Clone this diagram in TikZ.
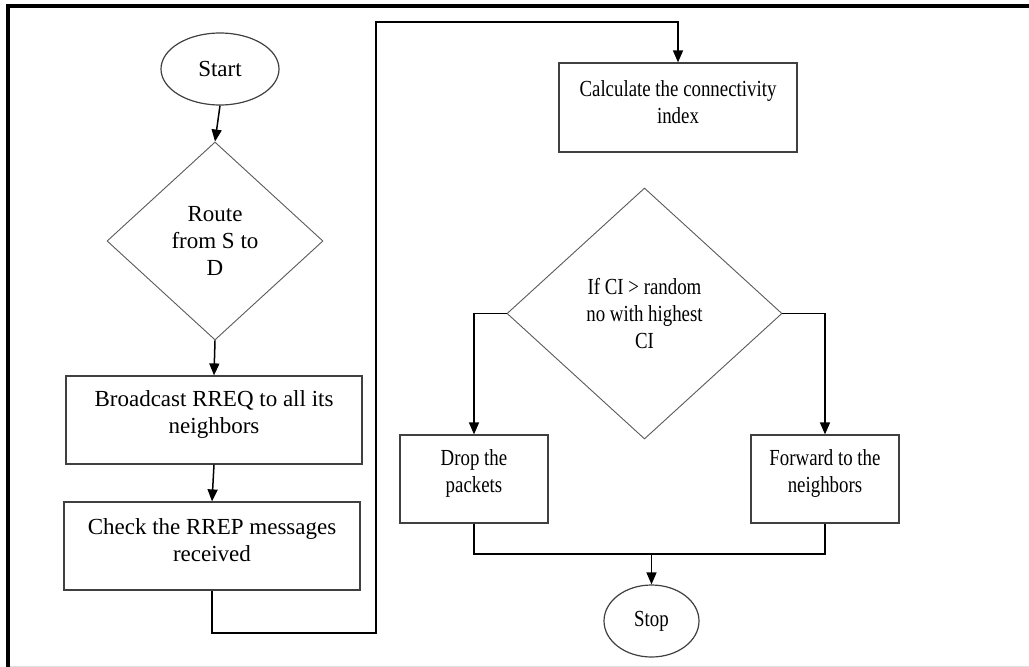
\documentclass[tikz,border=0pt]{standalone}
\usepackage{fontspec}
\usepackage{graphicx}
\setmainfont{Liberation Serif}
\usetikzlibrary{shapes.geometric,arrows.meta}
\newcommand\nar[1]{\scalebox{0.82}[1]{#1}}
\begin{document}
\begin{tikzpicture}[x=1pt,y=-1pt,
  every node/.style={font=\fontsize{23}{27}\selectfont, align=center, inner sep=0pt},
  shapeline/.style={draw=black!75, line width=1.2pt},
  box/.style={shapeline, rectangle, minimum height=88},
  oval/.style={shapeline, ellipse},
  decision/.style={draw=black!65, line width=0.9pt, diamond, aspect=1},
  conn/.style={draw=black, line width=1.5pt},
  arr/.style={conn, -{Triangle[length=12pt,width=10pt]}}]
\useasboundingbox (0,0) rectangle (1029,667);
% frame
\fill[black] (6,4) rectangle (1029,8);
\fill[black] (6,4) rectangle (10,667);
\draw[black!12, line width=1pt] (10,666) -- (1029,666);

% nodes
\node[oval, minimum width=118, minimum height=72] (start) at (220,69) {Start};
\node[decision, minimum width=216, minimum height=198] (d1) at (215,241) {Route\\from S to\\D};
\node[box, minimum width=296] (b1) at (214,420) {};
\node (b1t) at ([yshift=5.5pt]b1.center) {Broadcast RREQ to all its\\neighbors};
\node[box, minimum width=296] (b2) at (212,546) {};
\node (b2t) at ([yshift=5.5pt]b2.center) {Check the RREP messages\\received};
\node[box, minimum width=238, minimum height=89] (b3) at (678,107.5) {};
\node (b3t) at ([yshift=5.5pt]b3.center) {\nar{Calculate the connectivity}\\\nar{index}};
\node[decision, minimum width=275, minimum height=251] (d2) at (644.5,313.5) {\nar{If CI > random}\\\nar{no with highest}\\\nar{CI}};
\node[box, minimum width=148] (b4) at (474,479) {};
\node (b4t) at ([yshift=5.5pt]b4.center) {\nar{Drop the}\\\nar{packets}};
\node[box, minimum width=148] (b5) at (825,479) {};
\node (b5t) at ([yshift=5.5pt]b5.center) {\nar{Forward to the}\\\nar{neighbors}};
\node[oval, minimum width=95, minimum height=72] (stop) at (651.5,621) {\nar{Stop}};

% helper coordinates
\coordinate (c1) at (376,633);
\coordinate (c2) at (376,22);
\coordinate (jl) at (474,554);
\coordinate (jr) at (825,554);
\coordinate (jm) at (651.5,554);

% connectors
\draw[arr] (start.south) -- (d1.north);
\draw[arr] (d1.south) -- (b1.north);
\draw[arr] (b1.south) -- (b2.north);
\draw[arr] (b2.south) |- (c1) -- (c2) -| (b3.north);
\draw[arr] (d2.west) -| (b4.north);
\draw[arr] (d2.east) -| (b5.north);
\draw[conn] (b4.south) -- (jl) -- (jr) -- (b5.south);
\draw[arr] (jm) -- (stop.north);
\end{tikzpicture}
\end{document}
